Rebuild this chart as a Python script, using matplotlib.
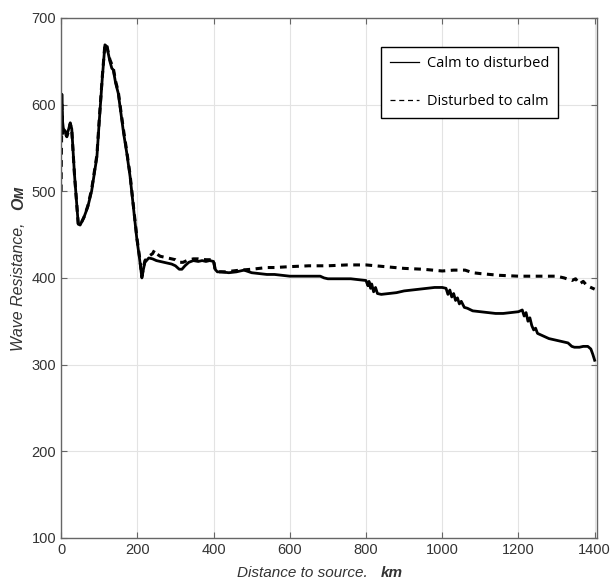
import matplotlib
matplotlib.use("Agg")
import matplotlib.pyplot as plt

plt.rcParams['font.family'] = ['Liberation Sans', 'DejaVu Sans']

calm_x = [0, 2, 4, 6, 10, 15, 20, 24, 28, 35, 45, 50, 60, 70, 80, 94, 100, 108, 115, 120,
          128, 133, 137, 143, 150, 157, 164, 172, 181, 190, 199, 205, 212, 216, 220, 230, 240,
          250, 260, 270, 280, 290, 300, 310, 317, 325, 335, 347, 360, 370, 380, 390, 400,
          404, 410, 420, 440, 460, 480, 500, 520, 540, 560, 580, 600, 620, 640, 660, 680,
          690, 700, 720, 740, 760, 780, 800, 805, 808, 812, 815, 820, 825, 830, 840, 860, 880, 900,
          920, 940, 960, 980, 1000, 1010, 1015, 1020, 1025, 1030, 1035, 1040, 1045, 1050, 1058,
          1066, 1080, 1100, 1120, 1140, 1160, 1180, 1200, 1210, 1215, 1220, 1225, 1230, 1235,
          1240, 1245, 1250, 1260, 1280, 1300, 1320, 1330, 1340, 1347, 1360, 1370, 1382, 1390,
          1395, 1400]
calm_y = [565, 612, 580, 572, 570, 565, 572, 579, 572, 520, 462, 461, 470, 482, 500, 540, 580, 630, 669, 667,
          650, 642, 640, 625, 613, 590, 567, 545, 517, 480, 444, 425, 400, 410, 418, 423, 422,
          420, 419, 418, 417, 416, 414, 410, 410, 414, 418, 420, 419, 420, 419, 420, 419,
          410, 407, 407, 406, 407, 409, 406, 405, 404, 404, 403, 402, 402, 402, 402, 402,
          400, 399, 399, 399, 399, 398, 397, 391, 396, 388, 393, 384, 389, 382, 381, 382, 383, 385,
          386, 387, 388, 389, 389, 388, 381, 386, 378, 382, 374, 377, 370, 373, 366,
          365, 362, 361, 360, 359, 359, 360, 361, 363, 356, 360, 350, 354, 345,
          340, 342, 336, 334, 330, 328, 326, 325, 321, 320, 320, 321, 321, 318,
          312, 305]

dist_x = [0, 2, 4, 6, 10, 15, 20, 24, 28, 35, 45, 50, 60, 70, 80, 94, 100, 108, 115, 120,
          128, 137, 143, 150, 157, 164, 172, 181, 190, 199, 205, 212, 216, 220, 230, 240,
          245, 250, 260, 270, 280, 290, 300, 310, 320, 330, 347, 360, 380, 400, 404, 410,
          430, 450, 470, 500, 520, 540, 560, 600, 650, 700, 750, 800, 850, 900, 950, 1000,
          1030, 1060, 1080, 1100, 1150, 1200, 1250, 1300, 1320, 1340, 1350, 1360, 1370, 1380, 1400]
dist_y = [500, 600, 575, 565, 568, 563, 570, 578, 570, 520, 462, 461, 470, 483, 502, 542, 582, 632, 670, 668,
          652, 642, 627, 615, 592, 570, 547, 519, 482, 446, 427, 402, 412, 420, 425, 428,
          432, 428, 425, 424, 423, 422, 421, 418, 418, 420, 422, 422, 421, 421, 410, 407,
          407, 408, 409, 410, 411, 412, 412, 413, 414, 414, 415, 415, 413, 411, 410, 408,
          409, 409, 406, 405, 403, 402, 402, 402, 400, 397, 399, 393, 396, 391, 387]

x_ticks = [0, 200, 400, 600, 800, 1000, 1200, 1400]
y_ticks = [100, 200, 300, 400, 500, 600, 700]

fig = plt.figure(figsize=(6.11, 5.79), dpi=100)
ax = fig.add_axes([0.1, 0.071, 0.877, 0.898])

ax.plot(calm_x, calm_y, color='black', lw=2.0, label='Calm to disturbed')
ax.plot(dist_x, dist_y, color='black', lw=2.2, ls=(0, (2.2, 1.8)), label='Disturbed to calm')

ax.set_xlim(0, 1406)
ax.set_ylim(100, 700)
ax.set_xticks(x_ticks)
ax.set_yticks(y_ticks)
ax.grid(True, color='#e3e3e3', lw=0.8)
ax.set_axisbelow(True)
ax.tick_params(direction='in', top=True, right=True, length=4, color='#666666',
               labelcolor='#333333', labelsize=10.5)
for s in ax.spines.values():
    s.set_color('#666666')
    s.set_linewidth(1.0)

ax.text(-0.080, 0.484, 'Wave Resistance,', transform=ax.transAxes, rotation=90,
        ha='center', va='center', fontsize=11.5, style='italic', color='#333333')
ax.text(-0.080, 0.655, 'Ом', transform=ax.transAxes, rotation=90,
        ha='center', va='center', fontsize=11.5, style='italic', weight='bold', color='#333333')
ax.text(0.45, -0.067, 'Distance to source.', transform=ax.transAxes,
        ha='center', va='center', fontsize=11, style='italic', color='#333333')
ax.text(0.617, -0.067, 'km', transform=ax.transAxes,
        ha='center', va='center', fontsize=11, style='italic', weight='bold', color='#333333')

leg = ax.legend(loc='upper left', bbox_to_anchor=(0.597, 0.944), borderaxespad=0,
                frameon=True, fancybox=False,
                edgecolor='black', framealpha=1, labelspacing=1.6,
                handlelength=2.0, handletextpad=0.55, borderpad=0.6,
                prop={'family': 'Open Sans', 'size': 10.5})
leg.get_frame().set_linewidth(1.0)
leg_lines = leg.get_lines()
for l in leg_lines:
    l.set_linewidth(0.9)
leg_lines[1].set_linestyle((0, (4, 3)))

fig.savefig('out.png', dpi=100)
